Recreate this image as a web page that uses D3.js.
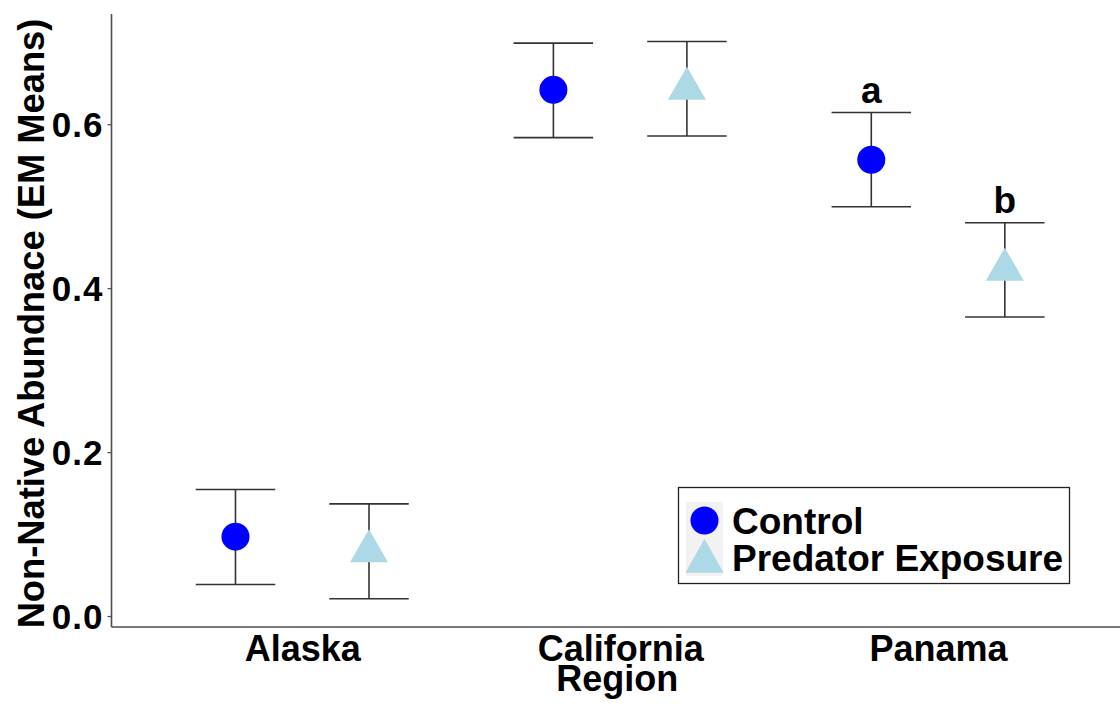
<!DOCTYPE html>
<html>
<head>
<meta charset="utf-8">
<script src="https://cdn.jsdelivr.net/npm/d3@7"></script>
<style>
  html, body { margin: 0; padding: 0; background: #fff; }
  svg text { font-family: "Liberation Sans", Arial, Helvetica, sans-serif; font-weight: bold; fill: #000; }
</style>
</head>
<body>
<svg id="chart" width="1120" height="709"></svg>
<script>
// Regions on the x axis and treatment groups
const regions = ["Alaska", "California", "Panama"];
const treatments = ["Control", "Predator Exposure"];

// Estimated marginal means with their confidence limits, per treatment (order follows regions)
const controlMean = [0.0968, 0.6420, 0.5567];
const controlLower = [0.0384, 0.5837, 0.4994];
const controlUpper = [0.1543, 0.6990, 0.6143];

const predatorMean = [0.0789, 0.6433, 0.4226];
const predatorLower = [0.0210, 0.5856, 0.3649];
const predatorUpper = [0.1368, 0.7009, 0.4799];

// Significance letters (Panama only)
const letterRegion = ["Panama", "Panama"];
const letterTreatment = ["Control", "Predator Exposure"];
const letterText = ["a", "b"];

const yTicks = [0.0, 0.2, 0.4, 0.6];

const rows = [];
regions.forEach((r, i) => {
  rows.push({ region: r, treatment: treatments[0], mean: controlMean[i], lo: controlLower[i], hi: controlUpper[i] });
  rows.push({ region: r, treatment: treatments[1], mean: predatorMean[i], lo: predatorLower[i], hi: predatorUpper[i] });
});

const svg = d3.select("#chart");

const panel = { left: 111.5, right: 1128.8, top: 14, bottom: 627 };

const x = d3.scalePoint().domain(regions).range([panel.left, panel.right]).padding(0.6);
const step = x.step();
const dodge = d3.scalePoint().domain(treatments).range([-0.21 * step, 0.21 * step]);
const y = d3.scaleLinear().domain([-0.0134, 0.7345]).range([panel.bottom, panel.top]);

const colour = d3.scaleOrdinal().domain(treatments).range(["#0000FF", "#ADD8E6"]);
const circleSym = d3.symbol().type(d3.symbolCircle).size(Math.PI * 14 * 14);

// Triangle with its centroid at the origin
function triPath(halfW, h) {
  const top = -2 * h / 3, base = h / 3;
  return `M0,${top}L${halfW},${base}L${-halfW},${base}Z`;
}

// Axes
const yAxis = d3.axisLeft(y).tickValues(yTicks).tickFormat(d3.format(".1f")).tickSize(4).tickPadding(4);
const gy = svg.append("g").attr("transform", `translate(${panel.left},0)`).call(yAxis);
gy.select(".domain").attr("d", `M0,${panel.top}V${panel.bottom}`).attr("stroke", "#4d4d4d").attr("stroke-width", 1.6);
gy.selectAll(".tick line").attr("stroke", "#4d4d4d").attr("stroke-width", 1.2);
gy.selectAll(".tick text").attr("font-size", 35).attr("dy", "0.36em").attr("fill", "#000")
  .attr("letter-spacing", 1);

const xAxis = d3.axisBottom(x).tickSize(0).tickPadding(10);
const gx = svg.append("g").attr("transform", `translate(0,${panel.bottom})`).call(xAxis);
gx.select(".domain").attr("d", `M${panel.left},0H1120`).attr("stroke", "#4d4d4d").attr("stroke-width", 1.6);
gx.selectAll(".tick text").attr("font-size", 36).attr("dy", "0.68em").attr("fill", "#000");

// Axis titles
svg.append("text")
  .attr("x", (panel.left + 1128.8) / 2 - 3).attr("y", 691)
  .attr("text-anchor", "middle").attr("font-size", 36).text("Region");

svg.append("text")
  .attr("transform", `translate(44,${(panel.top + panel.bottom) / 2 + 3}) rotate(-90)`)
  .attr("text-anchor", "middle").attr("font-size", 36.3).text("Non-Native Abundnace (EM Means)");

// Error bars
const capHalf = 0.125 * step;
const eb = svg.append("g").attr("stroke", "#333").attr("stroke-width", 1.6).attr("fill", "none");
rows.forEach(d => {
  const cx = x(d.region) + dodge(d.treatment);
  eb.append("line").attr("x1", cx).attr("x2", cx).attr("y1", y(d.hi)).attr("y2", y(d.lo));
  eb.append("line").attr("x1", cx - capHalf).attr("x2", cx + capHalf).attr("y1", y(d.hi)).attr("y2", y(d.hi));
  eb.append("line").attr("x1", cx - capHalf).attr("x2", cx + capHalf).attr("y1", y(d.lo)).attr("y2", y(d.lo));
});

// Points
svg.append("g").selectAll("path").data(rows).join("path")
  .attr("transform", d => `translate(${x(d.region) + dodge(d.treatment)},${y(d.mean)})`)
  .attr("d", d => d.treatment === treatments[0] ? circleSym() : triPath(19, 33))
  .attr("fill", d => colour(d.treatment));

// Significance letters above the upper limits
letterText.forEach((t, i) => {
  const r = rows.find(d => d.region === letterRegion[i] && d.treatment === letterTreatment[i]);
  svg.append("text")
    .attr("x", x(r.region) + dodge(r.treatment))
    .attr("y", y(r.hi) - 10)
    .attr("text-anchor", "middle").attr("font-size", 37).text(t);
});

// Legend
const lg = svg.append("g").attr("transform", "translate(678,487)");
lg.append("rect").attr("x", 0.5).attr("y", 0.5).attr("width", 391).attr("height", 96)
  .attr("fill", "#fff").attr("stroke", "#222").attr("stroke-width", 1.3);
lg.append("rect").attr("x", 8).attr("y", 15).attr("width", 37).attr("height", 74).attr("fill", "#F2F2F2");
treatments.forEach((t, i) => {
  const cy = 33.5 + i * 37;
  lg.append("path")
    .attr("transform", `translate(26.5,${cy + (i === 1 ? 4 : 0)})`)
    .attr("d", i === 0 ? circleSym() : triPath(19, 34))
    .attr("fill", colour(t));
  lg.append("text").attr("x", 54).attr("y", cy).attr("dy", "0.36em")
    .attr("font-size", 37).text(t);
});
</script>
</body>
</html>
